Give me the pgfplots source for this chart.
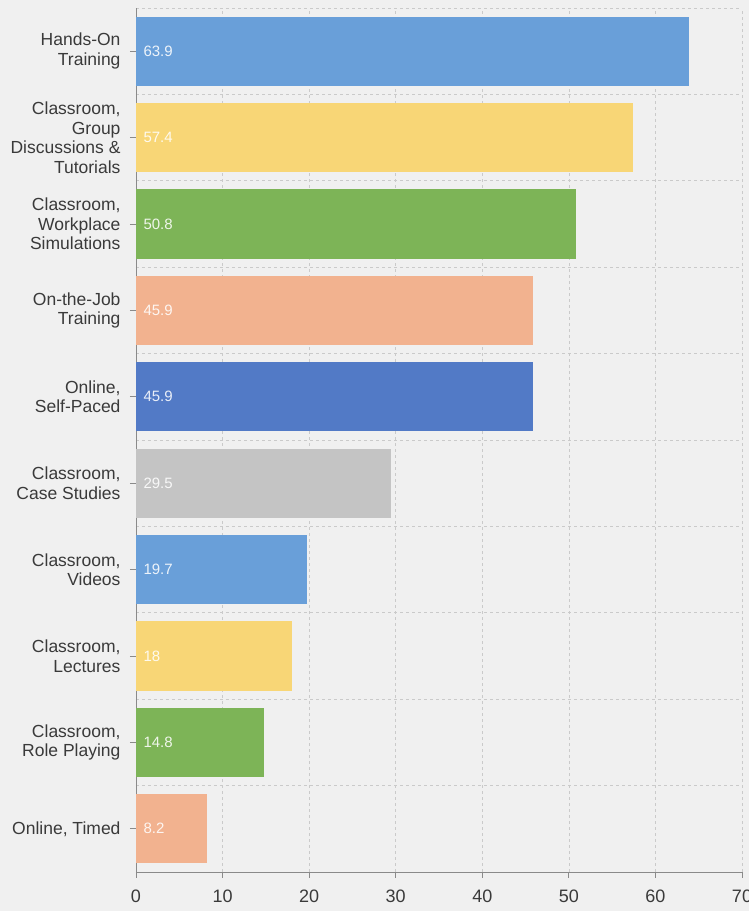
\documentclass[border=0pt]{standalone}
\usepackage{pgfplots}
\pgfplotsset{compat=1.18}
\usepackage{fontspec}
\setmainfont{Liberation Sans}
\definecolor{bgc}{HTML}{F0F0F0}
\definecolor{cblue}{HTML}{699FD9}
\definecolor{cyellow}{HTML}{F8D676}
\definecolor{cgreen}{HTML}{7DB457}
\definecolor{csalmon}{HTML}{F2B28F}
\definecolor{cdblue}{HTML}{527AC6}
\definecolor{cgray}{HTML}{C4C4C4}
\definecolor{gridc}{HTML}{CACACA}
\definecolor{axc}{HTML}{8A8A8A}
\definecolor{txt}{HTML}{3A3A3A}
\begin{document}
\begin{tikzpicture}
\fill[bgc] (-136bp,-39bp) rectangle (613bp,872bp);
\begin{axis}[
  at={(0,0)}, anchor=south west,
  scale only axis, width=606bp, height=864bp,
  xmin=0, xmax=70, ymin=-0.5, ymax=9.5,
  axis x line*=bottom, axis y line*=left,
  axis line style={axc, line width=0.9bp},
  xtick={0,10,...,70},
  ytick={0,...,9},
  minor ytick={-0.5,0.5,...,9.5},
  xmajorgrids, yminorgrids,
  major grid style={gridc, dash pattern=on 3bp off 3bp, line width=0.6bp},
  minor grid style={gridc, dash pattern=on 3bp off 3bp, line width=0.6bp},
  tick align=outside,
  major tick length=6bp, minor tick length=0pt,
  tick style={axc, line width=0.9bp},
  /pgf/number format/assume math mode=true,
  xticklabel style={font=\fontsize{18bp}{20bp}\selectfont, text=txt, yshift=-8bp},
  yticklabel style={font=\fontsize{17.5bp}{19.5bp}\selectfont, text=txt, align=right, xshift=-6bp},
  yticklabels={{Online, Timed},{Classroom,\\Role Playing},{Classroom,\\Lectures},{Classroom,\\Videos},{Classroom,\\Case Studies},{Online,\\Self-Paced},{On-the-Job\\Training},{Classroom,\\Workplace\\Simulations},{Classroom,\\Group\\Discussions \&\\Tutorials},{Hands-On\\Training}},
  clip=false,
]
\addplot[xbar, bar width=0.8, bar shift=0pt, fill=cblue, draw=none] coordinates {(63.9,9)};
\addplot[xbar, bar width=0.8, bar shift=0pt, fill=cyellow, draw=none] coordinates {(57.4,8)};
\addplot[xbar, bar width=0.8, bar shift=0pt, fill=cgreen, draw=none] coordinates {(50.8,7)};
\addplot[xbar, bar width=0.8, bar shift=0pt, fill=csalmon, draw=none] coordinates {(45.9,6)};
\addplot[xbar, bar width=0.8, bar shift=0pt, fill=cdblue, draw=none] coordinates {(45.9,5)};
\addplot[xbar, bar width=0.8, bar shift=0pt, fill=cgray, draw=none] coordinates {(29.5,4)};
\addplot[xbar, bar width=0.8, bar shift=0pt, fill=cblue, draw=none] coordinates {(19.7,3)};
\addplot[xbar, bar width=0.8, bar shift=0pt, fill=cyellow, draw=none] coordinates {(18,2)};
\addplot[xbar, bar width=0.8, bar shift=0pt, fill=cgreen, draw=none] coordinates {(14.8,1)};
\addplot[xbar, bar width=0.8, bar shift=0pt, fill=csalmon, draw=none] coordinates {(8.2,0)};
\addplot[draw=none, mark=none, nodes near coords, point meta=explicit symbolic,
  every node near coord/.style={anchor=west, xshift=4bp, text=white, text opacity=0.88, font=\fontsize{15bp}{17bp}\selectfont}]
  coordinates {(0,9)[63.9] (0,8)[57.4] (0,7)[50.8] (0,6)[45.9] (0,5)[45.9] (0,4)[29.5] (0,3)[19.7] (0,2)[18] (0,1)[14.8] (0,0)[8.2]};
\end{axis}
\pgfresetboundingbox
\path (-136bp,-39bp) rectangle (613bp,872bp);
\end{tikzpicture}
\end{document}
